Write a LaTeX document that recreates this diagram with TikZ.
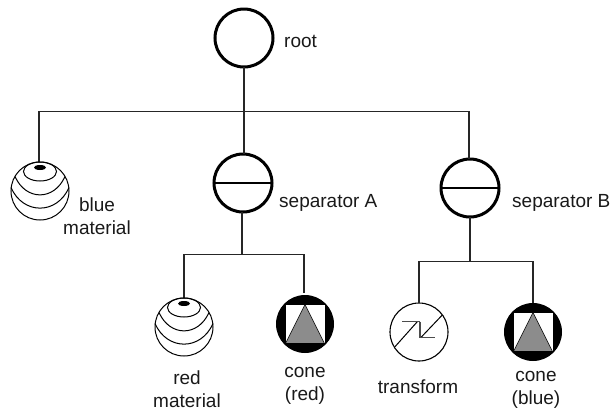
\documentclass[tikz,border=0pt]{standalone}
\usepackage{fontspec}
\setmainfont{Liberation Sans}
\tikzset{
  conn/.style={line width=1.1pt,draw=black!85},
  thick circle/.style={circle,draw,line width=3pt,minimum size=58pt,inner sep=0pt,outer sep=0pt},
  thin circle/.style={circle,draw,line width=1.1pt,minimum size=58pt,inner sep=0pt,outer sep=0pt},
  cone circle/.style={circle,fill=black,minimum size=58pt,inner sep=0pt,outer sep=0pt},
  lbl/.style={font=\fontsize{19}{23}\selectfont,align=center,inner sep=0pt,text=black!90},
  sphere/.pic={
    \draw[line width=1pt] (0,0) circle (29);
    \fill (0,-23.5) ellipse (6 and 2.5);
    \draw[line width=1pt] (0,-19.5) ellipse (16.5 and 9.5);
    \draw[line width=1pt] (-25,-14.5) .. controls (-14,10) and (14,10) .. (25,-14.5);
    \draw[line width=1pt] (-29,-3.5) .. controls (-17,24) and (17,24) .. (29,-3.5);
  },
  conepic/.pic={
    \fill[white,draw=black,line width=.6pt] (-20,-19.5) rectangle (20,19.5);
    \fill[black!45,draw=black,line width=.6pt] (0,-19.5) -- (19.5,19.5) -- (-19.5,19.5) -- cycle;
  }
}
\begin{document}
\begin{tikzpicture}[x=1pt,y=-1pt]
\useasboundingbox (0,0) rectangle (614,413);
% nodes
\node[thick circle] (root) at (244,38) {};
\node[thick circle] (sepA) at (243,183) {};
\node[thick circle] (sepB) at (470,188) {};
\coordinate (blue) at (40,191);
\coordinate (red) at (184,327);
\node[cone circle] (coneR) at (305,324) {};
\node[thin circle] (trans) at (419,332) {};
\node[cone circle] (coneB) at (533,332) {};
\coordinate (busT) at (244,111.5);
\coordinate (busL) at (39,111.5);
\coordinate (busR) at (469,111.5);
\coordinate (busAL) at (184,254.5);
\coordinate (busAR) at (304,254.5);
\coordinate (busAM) at (242,254.5);
\coordinate (busBL) at (419,261.5);
\coordinate (busBR) at (533,261.5);
\coordinate (busBM) at (470,261.5);
% connectors
\draw[conn] (root.south) -- (busT);
\draw[conn] (busT) -- (busT |- sepA.north);
\draw[conn] (39,162) -- (busL) -- (busR) -- (busR |- sepB.north);
\draw[conn] (busAM |- sepA.south) -- (busAM);
\draw[conn] (184,298) -- (busAL) -- (busAR) -- (304,292.5);
\draw[conn] (sepB.south) -- (busBM);
\draw[conn] (419,303) -- (busBL) -- (busBR) -- (533,303);
% symbols
\draw[line width=1.1pt] (sepA.west) -- (sepA.east);
\draw[line width=1.1pt] (sepB.west) -- (sepB.east);
\pic at (blue) {sphere};
\pic at (red) {sphere};
\pic at (coneR) {conepic};
\pic at (coneB) {conepic};
\begin{scope}[shift={(380,295)}]
\draw[line width=1pt] (15,51.7) -- (37.3,26.7);
\draw[line width=1.3pt,draw=black!70] (22.3,26.7) -- (39.3,26.7) -- (39.3,42.7);
\draw[line width=1pt] (62.3,20) -- (40.7,42.7);
\draw[line width=1.3pt,draw=black!70] (40.7,26.7) -- (40.7,42.7) -- (55,42.7);
\end{scope}
% labels
\node[lbl,anchor=west] (t0) at (284,41) {root};
\node[lbl] (t1) at (97,216) {blue\\material};
\node[lbl,anchor=west] (t2) at (279,203) {separator A};
\node[lbl,anchor=west] (t3) at (512,203) {separator B};
\node[lbl] (t4) at (187,389) {red\\material};
\node[lbl] (t5) at (305,386) {cone\\(red)};
\node[lbl] (t6) at (418,387) {transform};
\node[lbl] (t7) at (536,390) {cone\\(blue)};
\end{tikzpicture}
\end{document}
